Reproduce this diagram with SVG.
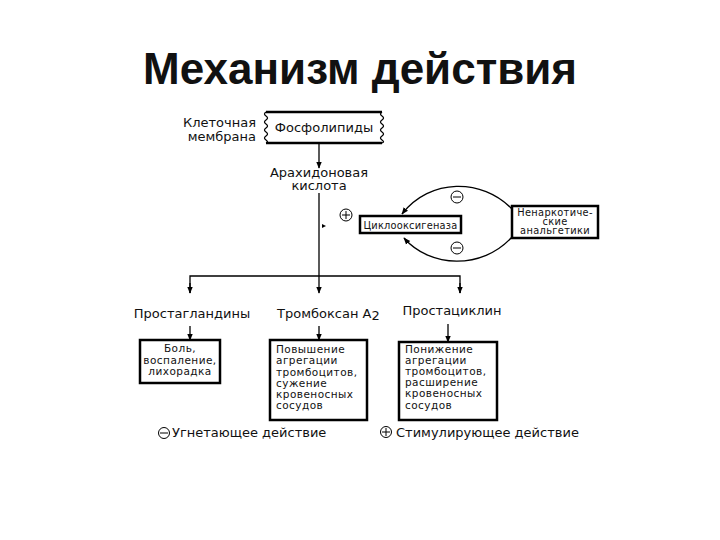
<svg xmlns="http://www.w3.org/2000/svg" width="720" height="540" viewBox="0 0 720 540">
<defs>
<marker id="ah" viewBox="0 0 10 10" refX="9" refY="5" markerWidth="7" markerHeight="7" orient="auto" markerUnits="userSpaceOnUse">
<path d="M0,1 L10,5 L0,9 Z" fill="#000"/>
</marker>
<style>
text{font-family:"DejaVu Sans","Liberation Sans",sans-serif;fill:#111}
.t{font-family:"Liberation Sans",Arial,sans-serif;font-weight:bold;font-size:44px}
.m{font-size:13px}
.s{font-size:10.5px;letter-spacing:0.45px}
.x{font-size:9.8px;letter-spacing:0.35px}
.bx{fill:#fff;stroke:#000;stroke-width:2.5}
.ln{fill:none;stroke:#000;stroke-width:1.3}
.c{fill:#fff;stroke:#000;stroke-width:1}
</style>
</defs>
<rect width="720" height="540" fill="#fff"/>
<text class="t" x="360" y="84" text-anchor="middle">Механизм действия</text>

<g id="connectors">
<path class="ln" d="M319,143 V168" marker-end="url(#ah)"/>
<path class="ln" d="M319,193 V293" marker-end="url(#ah)"/>
<path class="ln" d="M190,293 V276 H460 V293"/>
<path class="ln" d="M190,283 V293" marker-end="url(#ah)"/>
<path class="ln" d="M460,283 V293" marker-end="url(#ah)"/>
<path class="ln" d="M190,326 V340" marker-end="url(#ah)"/>
<path class="ln" d="M319,326 V340" marker-end="url(#ah)"/>
<path class="ln" d="M448,324 V342" marker-end="url(#ah)"/>
<path class="ln" d="M512,209 C482,178 430,178 402,214" marker-end="url(#ah)"/>
<path class="ln" d="M512,237 C482,270 430,268 404,238" marker-end="url(#ah)"/>
<path d="M326,226 L322,224 L322,228 Z" fill="#000"/>
</g>

<g id="phospholipids">
<path d="M266,112 H382" stroke="#000" stroke-width="2.5"/>
<path d="M266,143 H382" stroke="#000" stroke-width="2.5"/>
<path class="ln" d="M266,112 q-3,2 0,4 q3,2 0,4 q-3,2 0,4 q3,2 0,4 q-3,2 0,4 q3,2 0,4 q-3,2 0,4 q3,2 0,3" stroke-width="1"/>
<path class="ln" d="M382,112 q-3,2 0,4 q3,2 0,4 q-3,2 0,4 q3,2 0,4 q-3,2 0,4 q3,2 0,4 q-3,2 0,4 q3,2 0,3" stroke-width="1"/>
<text class="m" x="324" y="132" text-anchor="middle">Фосфолипиды</text>
</g>
<g id="membrane-label">
<text class="m" x="256" y="127" text-anchor="end">Клеточная</text>
<text class="m" x="256" y="141" text-anchor="end">мембрана</text>
</g>
<g id="arachidonic">
<text class="m" x="319" y="177" text-anchor="middle">Арахидоновая</text>
<text class="m" x="319" y="190" text-anchor="middle">кислота</text>
</g>
<g id="plus-cox">
<circle class="c" cx="346" cy="215" r="6"/>
<path d="M342,215 H350 M346,211 V219" stroke="#000" stroke-width="1"/>
</g>
<g id="cox">
<rect class="bx" x="360" y="216" width="101" height="17"/>
<text class="x" x="410.5" y="228.5" text-anchor="middle" textLength="94" lengthAdjust="spacing">Циклооксигеназа</text>
</g>
<g id="minus-top">
<circle class="c" cx="457" cy="197" r="6"/>
<path d="M453,197 H461" stroke="#000" stroke-width="1"/>
</g>
<g id="minus-bottom">
<circle class="c" cx="457" cy="248" r="6"/>
<path d="M453,248 H461" stroke="#000" stroke-width="1"/>
</g>
<g id="nsaid">
<rect class="bx" x="512" y="206" width="86" height="32"/>
<text class="x" x="555" y="215.5" text-anchor="middle">Ненаркотиче-</text>
<text class="x" x="555" y="225" text-anchor="middle">ские</text>
<text class="x" x="555" y="234" text-anchor="middle">анальгетики</text>
</g>
<g id="prostaglandins">
<text class="m" x="192" y="318" text-anchor="middle">Простагландины</text>
</g>
<g id="thromboxane">
<text class="m" x="277" y="318">Тромбоксан А<tspan dy="2">2</tspan></text>
</g>
<g id="prostacyclin">
<text class="m" x="452" y="315" text-anchor="middle">Простациклин</text>
</g>
<g id="box-pain">
<rect class="bx" x="140" y="340" width="80" height="43"/>
<text class="s" x="180" y="352" text-anchor="middle">Боль,</text>
<text class="s" x="180" y="363.5" text-anchor="middle">воспаление,</text>
<text class="s" x="180" y="375" text-anchor="middle">лихорадка</text>
</g>
<g id="box-tx">
<rect class="bx" x="270" y="340" width="97" height="80"/>
<text class="s" x="276" y="353">Повышение</text>
<text class="s" x="276" y="364">агрегации</text>
<text class="s" x="276" y="376">тромбоцитов,</text>
<text class="s" x="276" y="387">сужение</text>
<text class="s" x="276" y="398">кровеносных</text>
<text class="s" x="276" y="409">сосудов</text>
</g>
<g id="box-pc">
<rect class="bx" x="399" y="342" width="98" height="78"/>
<text class="s" x="405" y="353">Понижение</text>
<text class="s" x="405" y="364">агрегации</text>
<text class="s" x="405" y="375">тромбоцитов,</text>
<text class="s" x="405" y="386">расширение</text>
<text class="s" x="405" y="397">кровеносных</text>
<text class="s" x="405" y="409">сосудов</text>
</g>
<g id="legend-minus">
<circle class="c" cx="164" cy="433" r="5.5"/>
<path d="M160,433 H168" stroke="#000" stroke-width="1"/>
<text class="m" x="172" y="437">Угнетающее действие</text>
</g>
<g id="legend-plus">
<circle class="c" cx="386" cy="432" r="5.5"/>
<path d="M382,432 H390 M386,428 V436" stroke="#000" stroke-width="1"/>
<text class="m" x="396" y="437">Стимулирующее действие</text>
</g>
</svg>
